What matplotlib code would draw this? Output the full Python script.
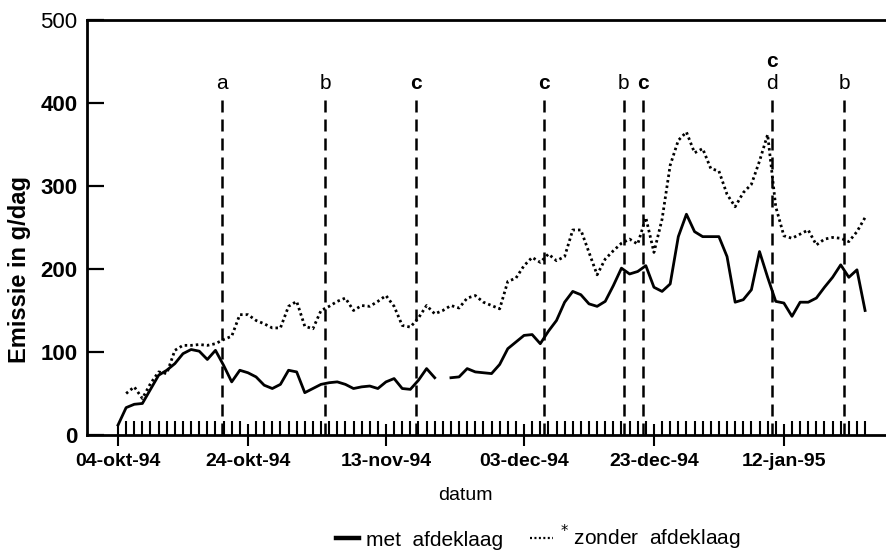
"""
Emissie (g/dag) met en zonder afdeklaag, okt-94 t/m jan-95.
X axis is the measurement number, with the date shown on selected measurements.
"""
import matplotlib
matplotlib.use("Agg")
import matplotlib.pyplot as plt
from matplotlib import font_manager
from matplotlib.lines import Line2D
from matplotlib.ticker import FixedLocator
import numpy as np

nan = np.nan

# Emission per measurement (g/dag)
met_afdeklaag = [12, 33, 37, 38, 55, 72, 78, 86, 98, 103,
                 101, 91, 102, 84, 64, 78, 75, 70, 60, 56,
                 61, 78, 76, 51, 56, 61, 63, 64, 61, 56,
                 58, 59, 56, 64, 68, 56, 55, 66, 80, 69,
                 nan, 69, 70, 80, 76, 75, 74, 85, 104, 112,
                 120, 121, 110, 125, 138, 160, 173, 169, 158, 155,
                 161, 180, 201, 194, 197, 204, 178, 173, 182, 239,
                 266, 245, 239, 239, 239, 215, 160, 163, 175, 221,
                 190, 161, 159, 143, 160, 160, 165, 178, 190, 205,
                 190, 199, 150]

zonder_afdeklaag = [nan, 50, 58, 44, 62, 76, 74, 102, 108, 108,
                    109, 108, 110, 115, 119, 145, 145, 138, 134, 129,
                    129, 155, 161, 131, 128, 150, 155, 161, 165, 150,
                    156, 155, 161, 168, 155, 132, 130, 141, 156, 146,
                    150, 156, 153, 165, 168, 160, 156, 152, 185, 189,
                    204, 214, 208, 218, 210, 215, 247, 247, 220, 193,
                    212, 222, 231, 236, 230, 262, 220, 260, 325, 355,
                    365, 340, 345, 321, 318, 290, 275, 292, 302, 330,
                    362, 275, 240, 237, 242, 247, 229, 236, 238, 237,
                    233, 245, 262]

# Dated measurements
date_ticks = [0, 16, 33, 50, 66, 82]
date_labels = ['04-okt-94', '24-okt-94', '13-nov-94', '03-dec-94', '23-dec-94', '12-jan-95']

# Events (measurement number) and their codes
event_pos = [12.8, 25.5, 36.7, 52.4, 62.3, 64.7, 80.5, 89.4]
event_labels = ['a', 'b', 'c', 'c', 'b', 'c', 'cd', 'b']

y_ticks = [0, 100, 200, 300, 400, 500]

# narrow font if there is one, else plain Arial-like
installed = {f.name for f in font_manager.fontManager.ttflist}
if 'Liberation Sans Narrow' in installed:
    narrow, xtick_size, ytick_size, mark_size = ['Liberation Sans Narrow', 'DejaVu Sans'], 16, 18, 16
else:
    narrow, xtick_size, ytick_size, mark_size = ['Liberation Sans', 'DejaVu Sans'], 14, 16, 15
plain = ['Liberation Sans', 'DejaVu Sans']
dotted = (0, (0.9, 1.1))

fig = plt.figure(figsize=(8.87, 5.55), dpi=100)
ax = fig.add_axes([87 / 887, 120 / 555, 800 / 887, 415 / 555])

ax.plot(np.arange(len(met_afdeklaag)), met_afdeklaag, color='black', lw=2.0)
ax.plot(np.arange(len(zonder_afdeklaag)), zonder_afdeklaag, color='black', lw=2.0, linestyle=dotted)

# event lines with their letters on top ('c' is bold)
ax.vlines(event_pos, 0, 407, color='black', lw=1.8, linestyles=(0, (4.8, 2.8)))
for pos, lab in zip(event_pos, event_labels):
    for k, ch in enumerate(reversed(lab)):
        ax.text(pos, 424 + 26 * k, ch, ha='center', va='center', fontsize=mark_size,
                family=narrow, fontweight='bold' if ch == 'c' else 'normal')

ax.set_xlim(-3.82, 94.7)
ax.set_ylim(0, 500)

for side in ['left', 'top', 'bottom']:
    ax.spines[side].set_linewidth(2)
ax.spines['right'].set_visible(False)

ax.set_yticks(y_ticks)
ax.set_yticklabels([str(v) for v in y_ticks], family=narrow, fontsize=ytick_size, fontweight='bold')
ax.get_yticklabels()[-1].set_fontweight('normal')
ax.tick_params(axis='y', direction='in', length=12, width=1.6, pad=7)

ax.set_xticks(date_ticks)
ax.set_xticklabels(date_labels, family=narrow, fontsize=xtick_size, fontweight='bold')
ax.xaxis.set_minor_locator(FixedLocator(np.arange(0, 93)))
ax.tick_params(axis='x', which='major', direction='inout', length=16, width=1.5, pad=5)
ax.tick_params(axis='x', which='minor', direction='in', length=10, width=1.5)

ax.set_ylabel('Emissie in g/dag', family=narrow, fontsize=17, fontweight='bold')
ax.yaxis.set_label_coords(-0.07, 0.398)
ax.set_xlabel('datum', family=plain, fontsize=14)
ax.xaxis.set_label_coords(0.4725, -0.125)

handles = [Line2D([], [], color='black', lw=3.2),
           Line2D([], [], color='black', lw=1.6, linestyle=dotted)]
fig.legend(handles, ['met  afdeklaag', '$^{*}$ zonder  afdeklaag'], loc='center',
           bbox_to_anchor=(0.607, 0.031), ncol=2, frameon=False, handlelength=1.1,
           handletextpad=0.35, columnspacing=1.3, prop={'family': plain, 'size': 15})

fig.savefig('out.png', dpi=100)
